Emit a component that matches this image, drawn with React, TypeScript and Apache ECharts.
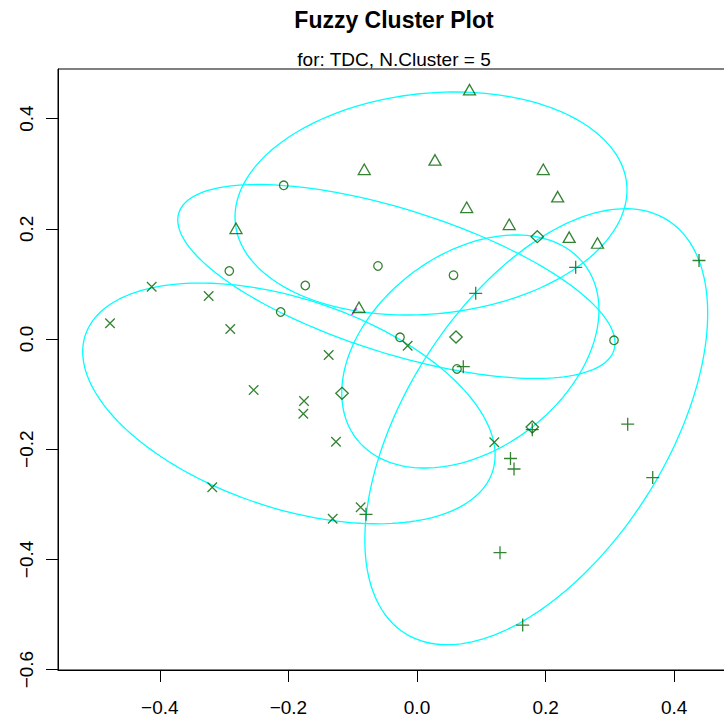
import React, { useEffect, useRef } from "react";
import * as echarts from "echarts";

// ---------- data ----------
const titleText = "Fuzzy Cluster Plot";
const subtitleText = "for: TDC, N.Cluster = 5";

const xTickValues = [-0.4, -0.2, 0.0, 0.2, 0.4];
const xTickLabels = ["\u22120.4", "\u22120.2", "0.0", "0.2", "0.4"];
const yTickValues = [-0.6, -0.4, -0.2, 0.0, 0.2, 0.4];
const yTickLabels = ["\u22120.6", "\u22120.4", "\u22120.2", "0.0", "0.2", "0.4"];

// cluster "x" (pch 4)
const crossX = [-0.4774, -0.4126, -0.324, -0.2904, -0.1373, -0.254, -0.1757, -0.1768, -0.126, -0.3184, -0.1311, -0.0145, 0.1202, -0.0876];
const crossY = [0.0285, 0.0949, 0.078, 0.0181, -0.029, -0.0926, -0.1125, -0.1356, -0.1864, -0.2691, -0.3261, -0.0122, -0.1875, -0.3054];
// cluster "o" (pch 1)
const circleX = [-0.2919, -0.1737, -0.212, -0.2073, -0.0607, 0.0568, -0.0264, 0.0622, 0.3064];
const circleY = [0.1234, 0.0971, 0.049, 0.2789, 0.1325, 0.1158, 0.0031, -0.0544, -0.0024];
// cluster "triangle" (pch 2)
const triX = [0.0817, -0.082, 0.028, 0.0773, -0.2815, 0.1434, 0.1964, 0.2188, 0.2367, 0.2807, -0.0902];
const triY = [0.4525, 0.308, 0.3249, 0.239, 0.2009, 0.2082, 0.308, 0.2583, 0.1848, 0.1742, 0.0575];
// cluster "diamond" (pch 5)
const diaX = [0.1871, 0.0607, -0.1166, 0.1793];
const diaY = [0.1857, 0.0036, -0.0985, -0.1597];
// cluster "+" (pch 3)
const plusX = [0.2468, 0.4386, 0.0913, 0.072, 0.1793, 0.1454, 0.1509, 0.3277, 0.3666, -0.0793, 0.1291, 0.1644];
const plusY = [0.1301, 0.1425, 0.0829, -0.0503, -0.1646, -0.2169, -0.2359, -0.1546, -0.2514, -0.3182, -0.3878, -0.5191];

// cluster ellipses: centre and two conjugate semi-diameters (data units)
const ellCenterX = [-0.1992, -0.032, 0.0218, 0.083, 0.1855];
const ellCenterY = [-0.1169, 0.1044, 0.2459, -0.0227, -0.1592];
const ellUX = [0.3207, 0.34, 0.3048, 0.2, 0.2666];
const ellUY = [-0.0938, -0.1116, 0.0245, 0.0753, 0.2058];
const ellVX = [0, 0, 0, 0, 0];
const ellVY = [-0.1973, 0.1361, 0.2009, 0.1976, -0.3379];

// tiny magenta segment
const magentaX = [-0.1016, -0.0937];
const magentaY = [0.0436, 0.0557];

// ---------- styling ----------
const FONT = "'Liberation Sans', Arial, Helvetica, sans-serif";
const GREEN = "#006400";
const CYAN = "#00FFFF";

const zip = (xs: number[], ys: number[]) => xs.map((x, i) => [x, ys[i]]);

const markerStyle = {
  color: "rgba(0,0,0,0)",
  borderColor: GREEN,
  borderWidth: 1.3,
};

export default function App() {
  const ref = useRef<HTMLDivElement>(null);

  useEffect(() => {
    if (!ref.current) return;
    const chart = echarts.init(ref.current, undefined, { renderer: "svg" });

    const ellipseData = ellCenterX.map((cx, i) => [cx, ellCenterY[i], ellUX[i], ellUY[i], ellVX[i], ellVY[i]]);

    const option: any = {
      animation: false,
      backgroundColor: "#ffffff",
      textStyle: { fontFamily: FONT },
      grid: {
        left: 58,
        top: 69,
        right: 70,
        bottom: 50,
        show: true,
        borderColor: "#000000",
        borderWidth: 1,
        backgroundColor: "transparent",
      },
      xAxis: {
        type: "value",
        position: "bottom",
        min: -0.5583,
        max: 0.4868,
        axisLine: { show: true, onZero: false, lineStyle: { color: "#000", width: 1 } },
        splitLine: { show: false },
        axisTick: {
          show: true,
          inside: false,
          length: 12,
          lineStyle: { color: "#000", width: 1 },
          customValues: xTickValues,
        },
        axisLabel: {
          show: true,
          margin: 28,
          fontSize: 19,
          fontFamily: FONT,
          color: "#000",
          customValues: xTickValues,
          formatter: (v: number) => {
            const i = xTickValues.findIndex((t) => Math.abs(t - v) < 1e-6);
            return i >= 0 ? xTickLabels[i] : "";
          },
        },
      },
      yAxis: {
        type: "value",
        position: "left",
        min: -0.6007,
        max: 0.49,
        axisLine: { show: true, onZero: false, lineStyle: { color: "#000", width: 1 } },
        splitLine: { show: false },
        axisTick: {
          show: true,
          inside: false,
          length: 12,
          lineStyle: { color: "#000", width: 1 },
          customValues: yTickValues,
        },
        axisLabel: {
          show: true,
          rotate: 90,
          margin: 22,
          fontSize: 19,
          fontFamily: FONT,
          color: "#000",
          customValues: yTickValues,
          formatter: (v: number) => {
            const i = yTickValues.findIndex((t) => Math.abs(t - v) < 1e-6);
            return i >= 0 ? yTickLabels[i] : "";
          },
        },
      },
      graphic: [
        {
          type: "text",
          x: 394,
          y: 20,
          style: {
            text: titleText,
            fontSize: 23,
            fontWeight: "bold",
            fontFamily: FONT,
            fill: "#000",
            textAlign: "center",
            textVerticalAlign: "middle",
          },
        },
        {
          type: "text",
          x: 394,
          y: 59.5,
          style: {
            text: subtitleText,
            fontSize: 19,
            fontFamily: FONT,
            fill: "#000",
            textAlign: "center",
            textVerticalAlign: "middle",
          },
        },
      ],
      series: [
        {
          type: "custom",
          name: "ellipses",
          coordinateSystem: "cartesian2d",
          clip: true,
          z: 1,
          encode: { x: 0, y: 1 },
          data: ellipseData,
          renderItem: (params: any, api: any) => {
            const cx = api.value(0);
            const cy = api.value(1);
            const ux = api.value(2);
            const uy = api.value(3);
            const vx = api.value(4);
            const vy = api.value(5);
            const pts: number[][] = [];
            const N = 180;
            for (let k = 0; k <= N; k++) {
              const t = (2 * Math.PI * k) / N;
              const c = Math.cos(t);
              const s = Math.sin(t);
              pts.push(api.coord([cx + ux * c + vx * s, cy + uy * c + vy * s]));
            }
            return {
              type: "polyline",
              shape: { points: pts },
              style: { stroke: CYAN, fill: "none", lineWidth: 1.3 },
            };
          },
        },
        {
          type: "line",
          data: zip(magentaX, magentaY),
          symbol: "none",
          z: 2,
          lineStyle: { color: "#FF00FF", width: 1.3 },
        },
        {
          type: "scatter",
          z: 3,
          data: zip(crossX, crossY),
          symbol: "path://M0,0L10,10M0,10L10,0",
          symbolSize: 9.5,
          itemStyle: markerStyle,
        },
        {
          type: "scatter",
          z: 3,
          data: zip(circleX, circleY),
          symbol: "circle",
          symbolSize: 8.5,
          itemStyle: markerStyle,
        },
        {
          type: "scatter",
          z: 3,
          data: zip(triX, triY),
          symbol: "triangle",
          symbolSize: [12, 10.5],
          itemStyle: markerStyle,
        },
        {
          type: "scatter",
          z: 3,
          data: zip(diaX, diaY),
          symbol: "diamond",
          symbolSize: [12.5, 12],
          itemStyle: markerStyle,
        },
        {
          type: "scatter",
          z: 3,
          data: zip(plusX, plusY),
          symbol: "path://M5,0L5,10M0,5L10,5",
          symbolSize: 13,
          itemStyle: markerStyle,
        },
      ],
    };

    chart.setOption(option);
    return () => chart.dispose();
  }, []);

  return (
    <div
      style={{
        position: "fixed",
        left: 0,
        top: 0,
        width: 724,
        height: 720,
        overflow: "hidden",
        background: "#fff",
      }}
    >
      <div ref={ref} style={{ width: 800, height: 720 }} />
    </div>
  );
}
